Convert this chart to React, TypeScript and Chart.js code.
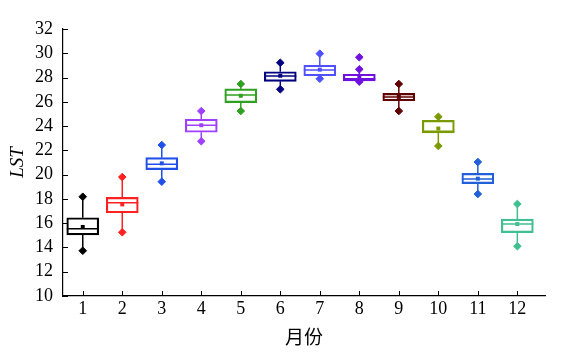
import React, { useEffect, useRef } from "react";
import { Chart, registerables } from "chart.js";

Chart.register(...registerables);

const months = [1, 2, 3, 4, 5, 6, 7, 8, 9, 10, 11, 12];
const q1 = [15.03, 16.86, 20.41, 23.49, 25.93, 27.69, 28.15, 27.72, 26.09, 23.43, 19.26, 15.22];
const q3 = [16.45, 18.13, 21.4, 24.56, 27.06, 28.48, 29.01, 28.27, 26.7, 24.47, 20.11, 16.34];
const medians = [15.55, 17.69, 20.85, 24.07, 26.56, 28.13, 28.62, 27.9, 26.4, 23.58, 19.64, 15.93];
const means = [15.69, 17.55, 20.93, 24.07, 26.5, 28.15, 28.65, 28.05, 26.4, 23.8, 19.67, 15.93];
const whiskerLow = [13.73, 15.25, 19.42, 22.75, 25.24, 27.03, 27.9, 27.66, 25.24, 22.36, 18.4, 14.1];
const whiskerHigh = [18.18, 19.8, 22.44, 25.24, 27.47, 29.22, 29.97, 28.68, 27.47, 24.77, 21.04, 17.58];
const outlierMonths = [8];
const outlierValues = [29.67];
const colors = [
  "#000000", "#ff2020", "#2050e8", "#a040ff", "#30a020", "#000080",
  "#5050ff", "#7010e0", "#600000", "#7a9a00", "#2060d8", "#40c090",
];
const yTicks = [10, 12, 14, 16, 18, 20, 22, 24, 26, 28, 30, 32];

const boxPlugin = {
  id: "boxExtras",
  afterDatasetsDraw(chart: any) {
    const { ctx, scales } = chart;
    const x = scales.x;
    const y = scales.y;
    const half = 16;
    ctx.save();
    months.forEach((m, i) => {
      const px = x.getPixelForValue(m);
      ctx.strokeStyle = colors[i];
      ctx.lineWidth = 1.5;
      ctx.beginPath();
      ctx.moveTo(px, y.getPixelForValue(q3[i]));
      ctx.lineTo(px, y.getPixelForValue(whiskerHigh[i]));
      ctx.moveTo(px, y.getPixelForValue(q1[i]));
      ctx.lineTo(px, y.getPixelForValue(whiskerLow[i]));
      const my = y.getPixelForValue(medians[i]);
      ctx.moveTo(px - half, my);
      ctx.lineTo(px + half, my);
      ctx.stroke();
    });
    ctx.restore();
  },
  afterDraw(chart: any) {
    const { ctx, scales } = chart;
    const x = scales.x;
    const y = scales.y;
    ctx.save();
    ctx.strokeStyle = "#000";
    ctx.lineWidth = 1;
    ctx.beginPath();
    const left = chart.chartArea.left;
    const bottom = chart.chartArea.bottom;
    yTicks.forEach((v) => {
      const py = Math.round(y.getPixelForValue(v)) + 0.5;
      ctx.moveTo(left, py);
      ctx.lineTo(left + 5, py);
    });
    months.forEach((m) => {
      const px = Math.round(x.getPixelForValue(m)) + 0.5;
      ctx.moveTo(px, bottom);
      ctx.lineTo(px, bottom - 5);
    });
    ctx.stroke();
    ctx.restore();
  },
};

export default function App() {
  const ref = useRef<HTMLCanvasElement | null>(null);
  useEffect(() => {
    if (!ref.current) return;
    const chart = new Chart(ref.current, {
      type: "bar",
      data: {
        datasets: [
          {
            type: "bar",
            data: months.map((m, i) => ({ x: m, y: [q1[i], q3[i]] })) as any,
            backgroundColor: "rgba(255,255,255,0)",
            borderColor: colors,
            borderWidth: 1.5,
            borderSkipped: false,
            barThickness: 32,
            order: 2,
          },
          {
            type: "scatter",
            data: months.flatMap((m, i) => [
              { x: m, y: whiskerHigh[i] },
              { x: m, y: whiskerLow[i] },
            ]),
            pointStyle: "rectRot",
            pointRadius: 3.8,
            backgroundColor: months.flatMap((m, i) => [colors[i], colors[i]]),
            borderColor: months.flatMap((m, i) => [colors[i], colors[i]]),
            borderWidth: 1,
            order: 0,
          },
          {
            type: "scatter",
            data: outlierMonths.map((m, i) => ({ x: m, y: outlierValues[i] })),
            pointStyle: "rectRot",
            pointRadius: 3.8,
            backgroundColor: outlierMonths.map((m) => colors[m - 1]),
            borderColor: outlierMonths.map((m) => colors[m - 1]),
            borderWidth: 1,
            order: 0,
          },
          {
            type: "scatter",
            data: months.map((m, i) => ({ x: m, y: means[i] })),
            pointStyle: "rect",
            pointRadius: 2.8,
            backgroundColor: colors,
            borderColor: colors,
            borderWidth: 0,
            order: 0,
          },
        ] as any,
      },
      options: {
        animation: false,
        responsive: true,
        maintainAspectRatio: false,
        layout: { padding: { top: 29, right: 28, left: 0, bottom: 0 } },
        plugins: { legend: { display: false }, tooltip: { enabled: false } },
        scales: {
          x: {
            type: "linear",
            offset: false,
            min: 0.5,
            max: 12.7,
            afterBuildTicks: (s: any) => {
              s.ticks = months.map((v) => ({ value: v }));
            },
            afterFit: (s: any) => {
              s.height = 62;
            },
            grid: { display: true, drawOnChartArea: false, drawTicks: false },
            border: { display: true, color: "#000", width: 1.2 },
            ticks: {
              color: "#000",
              padding: 4,
              autoSkip: false,
              maxRotation: 0,
              font: { family: "'Liberation Serif', serif", size: 18, lineHeight: 1 },
              callback: (v: any) => String(v),
            },
            title: {
              display: true,
              text: "月份",
              color: "#000",
              font: { family: "'Noto Sans CJK SC', sans-serif", size: 19 },
              padding: { top: 0, bottom: 10 },
            },
          },
          y: {
            min: 10,
            max: 32,
            afterBuildTicks: (s: any) => {
              s.ticks = yTicks.map((v) => ({ value: v }));
            },
            afterFit: (s: any) => {
              s.width = 63;
            },
            grid: { display: true, drawOnChartArea: false, drawTicks: false },
            border: { display: true, color: "#000", width: 1.2 },
            ticks: {
              color: "#000",
              padding: 10,
              autoSkip: false,
              font: { family: "'Liberation Serif', serif", size: 18, lineHeight: 1 },
            },
            title: {
              display: true,
              text: "LST",
              color: "#000",
              font: { family: "'Liberation Serif', serif", size: 19, style: "italic" },
              padding: { top: 7, bottom: 0 },
            },
          },
        },
      } as any,
      plugins: [boxPlugin],
    });
    return () => chart.destroy();
  }, []);
  return (
    <div style={{ position: "fixed", left: 0, top: 0, width: 573, height: 358, background: "#fff" }}>
      <canvas ref={ref} />
    </div>
  );
}
